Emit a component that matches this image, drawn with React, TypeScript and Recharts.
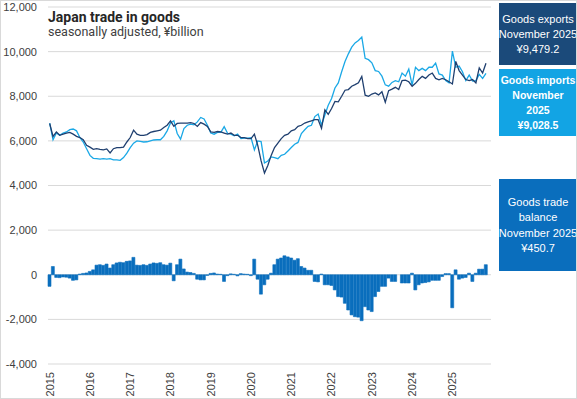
import { Bar, CartesianGrid, ComposedChart, Line, XAxis, YAxis } from "recharts";

const years = [2015, 2016, 2017, 2018, 2019, 2020, 2021, 2022, 2023, 2024, 2025];

// monthly, seasonally adjusted, ¥billion (Jan 2015 - Nov 2025)
const goodsExports = [
  6780, 6200, 6400, 6250, 6300, 6350, 6380, 6300, 6200, 6150, 6050, 5800,
  5720, 5620, 5650, 5620, 5600, 5640, 5460, 5650, 5700, 5700, 5720, 5950,
  6150, 6480, 6300, 6250, 6250, 6280, 6380, 6420, 6450, 6480, 6600, 6700,
  6900, 6650, 6780, 6800, 6800, 6800, 6820, 6780, 6650, 6820, 6750, 6650,
  6400, 6380, 6420, 6400, 6350, 6300, 6350, 6250, 6250, 6150, 6150, 6100,
  6100, 6300, 5800, 5100, 4560, 4900, 5350, 5700, 5900, 6100, 6250, 6300,
  6450, 6500, 6650, 6700, 6800, 6850, 6900, 6950, 6950, 6560, 7390, 7190,
  7450, 7770, 7750, 8000, 8270, 8300, 8450, 8520, 8600, 8890, 8050, 8000,
  8100, 8150, 8060, 8200, 7730, 8250, 8320, 8400, 8300, 8700, 8720, 8650,
  8450, 8580, 8750, 8890, 8800, 8950, 9040, 8800, 8740, 8800, 8740, 8650,
  8550, 9560, 9150, 8950, 8750, 8700, 8750, 8600, 9270, 9040, 9479.2,
];

const goodsImports = [
  6800, 6050, 6350, 6250, 6350, 6400, 6500, 6530, 6450, 6150, 5950, 5650,
  5350, 5220, 5200, 5180, 5200, 5180, 5200, 5150, 5150, 5130, 5250, 5450,
  5700, 5900, 6000, 5980, 5950, 5960, 6000, 6040, 6050, 6050, 6200, 6450,
  6800, 6900, 6330, 6080, 6550, 6700, 6750, 6720, 6850, 7050, 6980, 6700,
  6350, 6300, 6380, 6380, 6640, 6340, 6300, 6230, 6300, 6100, 6120, 6120,
  6140, 5600, 6000, 5970, 5010, 5100, 5280, 5250, 5200, 5350, 5400, 5550,
  5700, 5850, 5930, 6330, 6500, 6650, 6700, 7090, 7200, 6710, 7160, 7600,
  7900, 8370, 8600, 9100, 9560, 9900, 10200, 10390, 10500, 10650, 9700, 9640,
  9500, 9150, 9110, 8900, 8510, 8450, 8620, 8700, 8650, 9040, 8900, 9220,
  8500, 9300, 9150, 9250, 9150, 9300, 9300, 9490, 9000, 8950, 8700, 8600,
  10020, 9300, 9350, 9100, 8700, 8950, 8680, 8700, 8980, 8800, 9028.5,
];

const tradeBalance = [
  -520, 370, -120, -130, -100, -110, -150, -250, -230, 30, 60, 80,
  150, 220, 430, 450, 420, 480, 300, 450, 530, 560, 540, 600,
  620, 780, 430, 420, 450, 420, 480, 530, 510, 540, 450, 430,
  520, -270, 450, 700, 260, 120, 100, 60, -200, -230, -230, -30,
  60, 80, 30, 20, -300, -40, 40, 20, -50, 50, 30, 20,
  -40, 700, -200, -870, -450, -200, 70, 450, 700, 750, 850, 800,
  750, 650, 720, 370, 300, 200, 200, -300, -320, 30, -450, -450,
  -480, -680, -980, -1000, -1280, -1580, -1800, -1880, -1900, -2060, -1430, -1580,
  -1650, -980, -750, -520, -520, -150, -300, -300, 0, -370, -370, -370,
  70, -680, -450, -370, -350, -320, -250, -250, -250, -80, 50, 50,
  -1480, 220, -200, -150, -120, 70, -300, 70, 250, 250, 450.7,
];

const yTicks = [-4000, -2000, 0, 2000, 4000, 6000, 8000, 10000, 12000];

// axis runs Jan 2015 - Dec 2025 (last month empty)
const months: string[] = [];
years.forEach((y) => {
  for (let m = 1; m <= 12; m++) months.push(`${y}-${String(m).padStart(2, "0")}`);
});

const data = months.map((month, i) => ({
  month,
  exports: goodsExports[i] ?? null,
  imports: goodsImports[i] ?? null,
  balance: tradeBalance[i] ?? null,
}));

const axisFont = "'Liberation Sans', Arial, sans-serif";

function YearTick({ x, y, payload }: any) {
  return (
    <text
      x={x}
      y={y}
      dy="0.35em"
      textAnchor="end"
      transform={`rotate(-90, ${x}, ${y})`}
      fill="#404040"
      fontSize={11}
      fontFamily={axisFont}
    >
      {String(payload.value).slice(0, 4)}
    </text>
  );
}

function InfoBox({ y, h, fill, lines, bold }: { y: number; h: number; fill: string; lines: string[]; bold?: boolean }) {
  const lh = 15.3;
  const first = y + h / 2 - ((lines.length - 1) * lh) / 2 + 4;
  return (
    <g>
      <rect x={499} y={y} width={77} height={h} fill={fill} />
      {lines.map((t, i) => (
        <text
          key={i}
          x={538}
          y={first + i * lh}
          textAnchor="middle"
          fill="#ffffff"
          fontSize={bold ? 10.5 : 11}
          fontWeight={bold ? 700 : 400}
          fontFamily={axisFont}
        >
          {t}
        </text>
      ))}
    </g>
  );
}

export default function App() {
  return (
    <div style={{ position: "relative", width: 577, height: 399, background: "#fff" }}>
      <style>{`body{margin:0}`}</style>
      <ComposedChart
        width={577}
        height={399}
        data={data}
        margin={{ top: 7, right: 86, bottom: 0, left: 0 }}
        barCategoryGap={0}
      >
        <CartesianGrid vertical={false} stroke="#d9d9d9" />
        <XAxis
          dataKey="month"
          interval={11}
          height={35}
          axisLine={false}
          tickLine={false}
          tickSize={0}
          tickMargin={8}
          tick={<YearTick />}
        />
        <YAxis
          width={48}
          domain={[-4000, 12000]}
          ticks={yTicks}
          axisLine={false}
          tickLine={false}
          tickSize={0}
          tickMargin={11}
          tickFormatter={(v: number) => v.toLocaleString("en-US")}
          tick={{ fill: "#404040", fontSize: 11, fontFamily: axisFont }}
        />
        <Bar dataKey="balance" fill="#0a6ebd" stroke="#0a6ebd" strokeWidth={0.6} isAnimationActive={false} />
        <Line type="linear" dataKey="imports" stroke="#1aa8e6" strokeWidth={1.3} dot={false} isAnimationActive={false} />
        <Line type="linear" dataKey="exports" stroke="#1f3f6f" strokeWidth={1.3} dot={false} isAnimationActive={false} />
      </ComposedChart>
      <svg width={577} height={399} style={{ position: "absolute", left: 0, top: 0, pointerEvents: "none" }}>
        <text x={48} y={21.5} fontSize={14} fontWeight={700} fill="#262626" fontFamily="Roboto, sans-serif">
          Japan trade in goods
        </text>
        <text x={48} y={36} fontSize={12.5} fill="#404040" fontFamily="Roboto, sans-serif">
          seasonally adjusted, ¥billion
        </text>
        <InfoBox y={3} h={62} fill="#1b4a7a" lines={["Goods exports", "November 2025", "¥9,479.2"]} />
        <InfoBox y={69} h={67} fill="#12a4e4" bold lines={["Goods imports", "November", "2025", "¥9,028.5"]} />
        <InfoBox y={179} h={92} fill="#0a6ebd" lines={["Goods trade", "balance", "November 2025", "¥450.7"]} />
        <rect x={0.5} y={0.5} width={576} height={398} fill="none" stroke="#d9d9d9" />
      </svg>
    </div>
  );
}
